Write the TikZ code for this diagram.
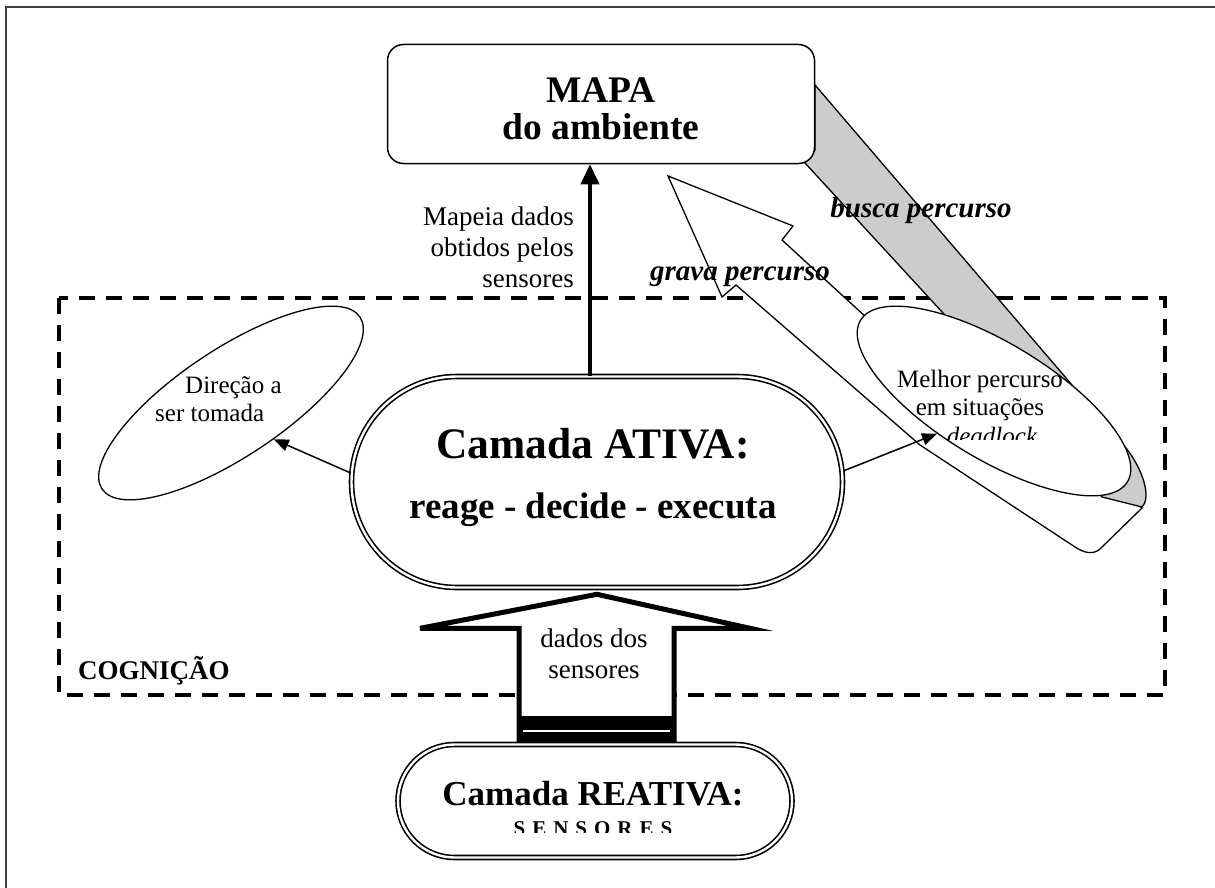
\documentclass[tikz,border=0pt]{standalone}
\usepackage{fontspec}
\setmainfont{Liberation Serif}
\usetikzlibrary{shapes,arrows.meta,positioning}

\tikzstyle{camada} = [rounded rectangle,draw,double,line width=1.6pt,
  double distance=2.4pt,fill=white,inner sep=0pt]
\tikzstyle{mapabox} = [rectangle,rounded corners=16pt,draw,line width=1.5pt,
  fill=white,inner sep=0pt]
\tikzstyle{oval} = [ellipse,draw,line width=1.3pt,fill=white,inner sep=0pt]
\tikzstyle{texto} = [inner sep=0pt,font=\fontsize{27}{31}\selectfont]
\tikzstyle{textoval} = [inner sep=0pt,font=\fontsize{25}{28}\selectfont]
\tikzstyle{rotulo} = [inner sep=0pt,font=\fontsize{29}{32}\selectfont\bfseries\itshape]
\tikzstyle{seta} = [line width=1.5pt,-{Triangle[length=15pt,width=12pt]}]
\tikzstyle{tracejado} = [line width=3.5pt,dash pattern=on 16pt off 11pt]

\begin{document}
\begin{tikzpicture}[x=1pt,y=-1pt]
\useasboundingbox (0,0) rectangle (1215,888);
\draw[line width=2pt,black!75] (6,888) -- (6,7) -- (1215,7);

% area de cognicao
\draw[tracejado] (59,298) rectangle (1165,695);
\node[inner sep=0pt,font=\fontsize{27}{30}\selectfont\bfseries,anchor=base west]
  (cognicao) at (78,679) {COGNIÇÃO};

% setas largas: grava percurso / busca percurso
\filldraw[fill=white,line width=1.3pt,line join=miter]
  (668,176) -- (793,226) -- (782,240) -- (880,330) -- (1080,470) -- (1142,508)
  -- (1100,549) .. controls (1093,555) and (1084,553) .. (1075,547)
  -- (920,445) -- (736,285) -- (722,297) -- cycle;
\filldraw[fill=black!20,line width=1.3pt]
  (815,85) -- (1126,448) .. controls (1142,468) and (1152,497) .. (1142,507)
  -- (1102,497) -- (943,313) -- (805,163) -- (815,150) -- cycle;

\node[mapabox,minimum width=427pt,minimum height=119pt] (mapa) at (601,104) {};
\node[inner sep=0pt,font=\fontsize{37.5}{37}\selectfont\bfseries,align=center,anchor=north]
  (mapatxt) at (601,78) {MAPA\\do ambiente};

\node[oval,minimum width=310pt,minimum height=107pt,rotate=33.7] (direcao) at (231,403) {};
\node[oval,minimum width=312pt,minimum height=116pt,rotate=-31.2] (melhor) at (994,401) {};
\node[textoval,align=left,anchor=north west] (direcaotxt) at (155,376)
  {\hspace*{30pt}Direção a\\ser tomada};
\node[textoval,align=center,anchor=north] (melhortxt) at (980,370)
  {Melhor percurso\\em situações};
\begin{scope}
  \clip (850,400) rectangle (1140,439);
  \node[inner sep=0pt,font=\fontsize{25}{28}\selectfont\itshape,anchor=base]
    (deadlock) at (992,444) {deadlock};
\end{scope}

% camadas
\node[camada,minimum width=491pt,minimum height=211pt] (ativa) at (597,482) {};
\node[inner sep=0pt,font=\fontsize{37}{60}\selectfont\bfseries,align=center,anchor=north]
  (ativatxt) at (593,428.5) {{\fontsize{43.5}{60}\selectfont Camada ATIVA:}\\reage - decide - executa};

\filldraw[fill=white,line width=5pt,line join=miter]
  ([yshift=-6pt]ativa.south) -- ++(153,34) -- ++(-76,0) -- ++(0,118)
  -- ++(-155,0) -- ++(0,-118) -- ++(-99,0) -- cycle;
\fill (519,716) rectangle (674,745);
\draw[white,line width=2pt] (523,730.5) -- (670,730.5);
\node[texto,align=center,anchor=north] (dadostxt) at (594,628.5) {dados dos\\sensores};

\node[camada,minimum width=394pt,minimum height=113pt] (reativa) at (595,801) {};
\node[inner sep=0pt,font=\fontsize{35}{38}\selectfont\bfseries,anchor=base]
  (reativatxt) at (593,805) {Camada REATIVA:};
\begin{scope}
  \clip (420,790) rectangle (770,832);
  \node[inner sep=0pt,font=\fontsize{21}{24}\selectfont\bfseries,anchor=base]
    (sensores) at (593,835) {S\hspace{7pt}E\hspace{7pt}N\hspace{7pt}S\hspace{7pt}O\hspace{7pt}R\hspace{7pt}E\hspace{7pt}S};
\end{scope}

% conexoes
\draw[line width=4pt,-{Triangle[length=20pt,width=18pt]}]
  ([xshift=-7pt]ativa.north) -- ([xshift=-11pt]mapa.south);
\node[texto,align=right,anchor=north east] (mapeia) at (574,206.5)
  {Mapeia dados\\obtidos pelos\\sensores};
\draw[seta] ([yshift=9pt]ativa.west) -- (direcao.-74);
\draw[seta] ([yshift=11pt]ativa.east) -- (melhor.-119);

\node[rotulo,anchor=base] (grava) at (740,280) {grava percurso};
\node[rotulo,anchor=base] (busca) at (921,217) {busca percurso};
\end{tikzpicture}
\end{document}
